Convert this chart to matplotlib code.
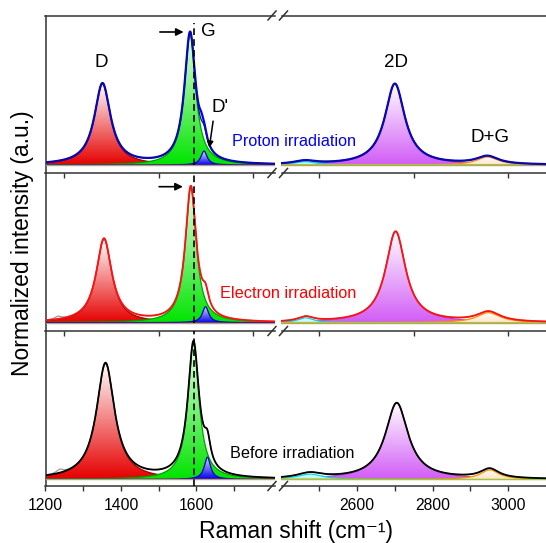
import numpy as np
import matplotlib
matplotlib.use("Agg")
import matplotlib.pyplot as plt
from matplotlib.colors import LinearSegmentedColormap
from matplotlib.patches import Polygon
from matplotlib.lines import Line2D

plt.rcParams['font.family'] = ['Liberation Sans', 'DejaVu Sans']

# Fitted Lorentzian bands (normalized to the G band)
band_names = ["D", "G", "D'", "D+D''", "2D", "D+G"]

proton_center = [1351, 1583, 1620, 2462, 2700, 2945]
proton_height = [0.61, 0.985, 0.105, 0.025, 0.61, 0.06]
proton_fwhm = [52, 36, 20, 70, 64, 70]

electron_center = [1355, 1585, 1624, 2464, 2702, 2948]
electron_height = [0.61, 0.985, 0.117, 0.035, 0.665, 0.073]
electron_fwhm = [50, 35, 20, 50, 64, 75]

before_center = [1359, 1592, 1629, 2475, 2705, 2951]
before_height = [0.835, 0.975, 0.16, 0.038, 0.55, 0.068]
before_fwhm = [58, 36, 20, 80, 73, 60]

# Features of the measured spectra left over by the fit
proton_resid_center = [1612]
proton_resid_height = [0.06]
proton_resid_fwhm = [14]
electron_resid_center = [1233]
electron_resid_height = [0.02]
electron_resid_fwhm = [20]
before_resid_center = [1238]
before_resid_height = [0.025]
before_resid_fwhm = [22]

g_reference = 1594
panel_labels = ["Proton irradiation", "Electron irradiation", "Before irradiation"]
panel_colors = ["#0000ff", "#ff0000", "#000000"]
data_colors = ["#0000ff", "#9a9a9a", "#9a9a9a"]
fit_colors = ["#10107a", "#ff1010", "#000000"]

# band colours: bottom of gradient, top of gradient, outline
band_bottom = ['#e60000', '#00e400', '#0000e8', '#a8f4f8', '#d25cf6', '#ffe2c4']
band_top = ['#ffffff', '#eaffea', '#e4e4ff', '#ffffff', '#ffffff', '#ffffff']
band_edge = ['#a00000', '#00a000', '#0000c8', '#00d8e8', '#c040e0', '#ff8c00']

W, H = 546, 543
fig = plt.figure(figsize=(W / 100, H / 100), dpi=100)


def fx(px):
    return px / W


def fy(py):
    return 1 - py / H


def lorentz(x, c, h, w):
    return h / (1 + ((x - c) / (w / 2.0)) ** 2)


def gradient_band(ax, x, y, bottom, top, z):
    verts = np.column_stack([np.r_[x, x[::-1]], np.r_[y, np.zeros_like(y)]])
    clip = Polygon(verts, closed=True, facecolor='none', edgecolor='none',
                   transform=ax.transData)
    ax.add_patch(clip)
    cmap = LinearSegmentedColormap.from_list('band', [bottom, top])
    grad = np.linspace(0, 1, 256).reshape(-1, 1)
    im = ax.imshow(grad, cmap=cmap, origin='lower', aspect='auto',
                   extent=[x[0], x[-1], 0, y.max()], zorder=z,
                   interpolation='bilinear')
    im.set_clip_path(clip)


x_left = np.linspace(1200, 1808, 1500)
x_right = np.linspace(2400, 3100, 1700)
xlim_left = (1200, 1808)
xlim_right = (2400, 3100)

# panel pixel extents (top, bottom) and y ranges
panel_px = [(15.5, 173), (173, 331), (331, 486)]
panel_ylim = [(-0.060, 1.124), (-0.061, 1.093), (-0.048, 1.07)]
left_px = (45.5, 275)
right_px = (281.5, 546)

params = [
    (proton_center, proton_height, proton_fwhm,
     proton_resid_center, proton_resid_height, proton_resid_fwhm),
    (electron_center, electron_height, electron_fwhm,
     electron_resid_center, electron_resid_height, electron_resid_fwhm),
    (before_center, before_height, before_fwhm,
     before_resid_center, before_resid_height, before_resid_fwhm),
]

spine_color = '#333333'

for p, (centers, heights, fwhms, rc, rh, rw) in enumerate(params):
    top, bot = panel_px[p]
    axl = fig.add_axes([fx(left_px[0]), fy(bot), fx(left_px[1] - left_px[0]),
                        (bot - top) / H])
    axr = fig.add_axes([fx(right_px[0]), fy(bot), fx(right_px[1] - right_px[0]),
                        (bot - top) / H])
    for ax, x, xl in ((axl, x_left, xlim_left), (axr, x_right, xlim_right)):
        ax.patch.set_visible(False)
        total = np.zeros_like(x)
        for c, h, w in zip(centers, heights, fwhms):
            total += lorentz(x, c, h, w)
        resid = np.zeros_like(x)
        for c, h, w in zip(rc, rh, rw):
            resid += lorentz(x, c, h, w)

        order = [0, 1, 2] if ax is axl else [4, 3, 5]
        for k, i in enumerate(order):
            y = lorentz(x, centers[i], heights[i], fwhms[i])
            gradient_band(ax, x, y, band_bottom[i], band_top[i], 2 + k)
            ax.plot(x, y, color=band_edge[i], lw=0.9, zorder=2.5 + k)
        ax.axhline(0, color='#c89a6a', lw=1.0, zorder=6)
        if ax is axr:
            ax.axhline(0.004, color='#9acd32', lw=0.8, zorder=6)

        ax.plot(x, total + resid, color=data_colors[p], lw=1.6 if p == 0 else 0.9,
                zorder=7)
        ax.plot(x, total, color=fit_colors[p], lw=0.9 if p == 0 else 1.3,
                zorder=8)

        ax.set_xlim(*xl)
        ax.set_ylim(*panel_ylim[p])
        ax.set_yticks([])
        for s in ax.spines.values():
            s.set_color(spine_color)
            s.set_linewidth(1.1)
        if p < 2:
            ax.set_xticks([1250, 1500, 1750] if ax is axl else [2500, 2750, 3000])
            ax.tick_params(axis='x', direction='out', length=3.5, width=1.0,
                           color=spine_color, labelbottom=False)
        else:
            if ax is axl:
                ax.set_xticks([1200, 1400, 1600])
                ax.set_xticks([1300, 1500, 1700], minor=True)
            else:
                ax.set_xticks([2600, 2800, 3000])
                ax.set_xticks([2500, 2700, 2900], minor=True)
            ax.tick_params(axis='x', which='both', direction='out', length=3.5,
                           width=1.0, color=spine_color, labelsize=11.3, pad=5)
        if p > 0:
            ax.spines['top'].set_visible(False)

    axl.spines['right'].set_visible(False)
    axr.spines['left'].set_visible(False)
    axr.spines['right'].set_visible(False)

    axl.axvline(g_reference, ymin=0.05 if p < 2 else 0.0,
                ymax=0.95 if p == 0 else 1.0, color='k', lw=1.2,
                dashes=(4, 2.5), zorder=9)

    if p == 0:
        axl.annotate('', xy=(1566, 1.0), xytext=(1503, 1.0),
                     arrowprops=dict(arrowstyle='-|>', color='k', lw=1.2,
                                     mutation_scale=11, shrinkA=0, shrinkB=0),
                     zorder=10)
        axl.text(1632, 1.0, 'G', fontsize=13.5, ha='center', va='center')
        axl.text(1348, 0.77, 'D', fontsize=13.5, ha='center', va='center')
        axl.text(1662, 0.43, "D'", fontsize=13.5, ha='center', va='center')
        axl.annotate('', xy=(1634, 0.13), xytext=(1644, 0.33),
                     arrowprops=dict(arrowstyle='-|>', color='k', lw=1.1,
                                     mutation_scale=9, shrinkA=0, shrinkB=0),
                     zorder=10)
        axr.text(2703, 0.77, '2D', fontsize=13.5, ha='center', va='center')
        axr.text(2952, 0.21, 'D+G', fontsize=13.5, ha='center', va='center')
    if p == 1:
        axl.annotate('', xy=(1564, 0.993), xytext=(1501, 0.993),
                     arrowprops=dict(arrowstyle='-|>', color='k', lw=1.2,
                                     mutation_scale=11, shrinkA=0, shrinkB=0),
                     zorder=10)

# sample labels spanning the axis break
label_px = [(232, 142), (220, 294), (230, 453)]
for (lx, ly), txt, col in zip(label_px, panel_labels, panel_colors):
    fig.text(fx(lx), fy(ly), txt, color=col, fontsize=11.7, ha='left',
             va='center')

# axis-break marks
for by in (15.5, 173, 331, 486):
    for bx in (272, 283.5):
        fig.add_artist(Line2D([fx(bx - 4), fx(bx + 4)], [fy(by + 4.5), fy(by - 4.5)],
                              color=spine_color, lw=1.1,
                              transform=fig.transFigure))

fig.text(fx(23), fy(243.5), 'Normalized intensity (a.u.)', rotation=90,
         fontsize=16.5, ha='center', va='center')
fig.text(fx(296), fy(538), 'Raman shift (cm\u207b\u00b9)', fontsize=16.5,
         ha='center', va='baseline')

fig.savefig('out.png', dpi=100)
